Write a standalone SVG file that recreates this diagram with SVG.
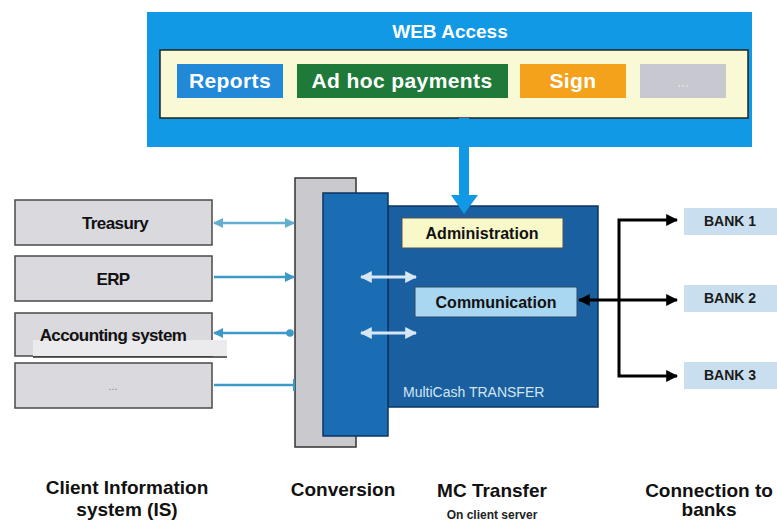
<svg xmlns="http://www.w3.org/2000/svg" width="777" height="522" viewBox="0 0 777 522">
<style>
text{font-family:"Liberation Sans",Arial,sans-serif}
.btn{font-size:21px;font-weight:bold;fill:#ffffff;text-anchor:middle;letter-spacing:0.4px}
.is{fill:#d9d9de;stroke:#4a4a4a;stroke-width:1.5}
.isl{font-size:17px;font-weight:bold;fill:#111;text-anchor:middle;letter-spacing:-0.6px}
.bank{fill:#c9dff0}
.bankl{font-size:14px;font-weight:bold;fill:#1a1a1a;text-anchor:middle}
.lbl{font-size:19px;font-weight:bold;fill:#111;text-anchor:middle}
.bl{stroke:#3d9ac6;stroke-width:2.5;fill:none}
.wh{stroke:#d6e6f3;stroke-width:3;fill:none}
.bk{stroke:#000;stroke-width:3;fill:none}
</style>
<defs>
<marker id="ab" viewBox="0 0 10 10" refX="9" refY="5" markerWidth="4" markerHeight="4" orient="auto-start-reverse"><path d="M0,0 L10,5 L0,10 z" fill="#3d9ac6"/></marker>
<marker id="aw" viewBox="0 0 10 10" refX="9" refY="5" markerWidth="4" markerHeight="4" orient="auto-start-reverse"><path d="M0,0 L10,5 L0,10 z" fill="#d6e6f3"/></marker>
<marker id="ak" viewBox="0 0 10 10" refX="9" refY="5" markerWidth="4" markerHeight="4" orient="auto-start-reverse"><path d="M0,0 L10,5 L0,10 z" fill="#000"/></marker>
<marker id="dot" viewBox="0 0 10 10" refX="5" refY="5" markerWidth="3" markerHeight="3"><circle cx="5" cy="5" r="5" fill="#3d9ac6"/></marker>
</defs>
<rect width="777" height="522" fill="#ffffff"/>

<g id="web-access">
<rect x="147" y="12" width="605" height="135" fill="#1199e6"/>
<text x="450" y="38" font-size="19" font-weight="bold" fill="#fff" text-anchor="middle">WEB Access</text>
<rect x="160" y="50" width="588" height="68" fill="#f9f9d6" stroke="#222" stroke-width="1.5"/>
</g>
<g id="reports"><rect x="177" y="64" width="106" height="34" fill="#2289d8"/><text class="btn" x="230" y="88">Reports</text></g>
<g id="adhoc"><rect x="297" y="64" width="211" height="34" fill="#1f7a3a"/><text class="btn" x="402" y="88">Ad hoc payments</text></g>
<g id="sign"><rect x="520" y="64" width="106" height="34" fill="#f4a11c"/><text class="btn" x="573" y="88">Sign</text></g>
<g id="more"><rect x="640" y="64" width="86" height="34" fill="#c7c8d0"/><text x="683" y="87" font-size="14" fill="#e8e8ee" text-anchor="middle">...</text></g>

<g id="conversion-gray"><rect x="295" y="178" width="61" height="269" fill="#c9c9ce" stroke="#333" stroke-width="1.5"/></g>
<g id="mc-transfer">
<rect x="388" y="206" width="210" height="201" fill="#1a5f9f" stroke="#0d3560" stroke-width="1.5"/>
<text x="403" y="397" font-size="14" fill="#d3e5f4">MultiCash TRANSFER</text>
</g>
<g id="conversion-blue"><rect x="323" y="193" width="65" height="243" fill="#1b6db3" stroke="#0d3560" stroke-width="1.5"/></g>
<g id="administration"><rect x="402" y="218" width="161" height="30" fill="#f8f8c8" stroke="#555" stroke-width="1"/><text x="482" y="239" font-size="16" font-weight="bold" fill="#111" text-anchor="middle">Administration</text></g>
<g id="communication"><rect x="415" y="287" width="162" height="30" fill="#a9d6f1" stroke="#2a4a6a" stroke-width="1"/><text x="496" y="308" font-size="16" font-weight="bold" fill="#111" text-anchor="middle">Communication</text></g>

<g id="treasury"><rect class="is" x="15" y="200" width="197" height="45"/><text class="isl" x="115" y="229">Treasury</text></g>
<g id="erp"><rect class="is" x="15" y="256" width="197" height="45"/><text class="isl" x="113" y="285">ERP</text></g>
<g id="accounting"><rect class="is" x="15" y="313" width="197" height="43"/><rect x="33" y="340" width="194" height="16" fill="#ebebee"/><line x1="33" y1="357" x2="227" y2="357" stroke="#333" stroke-width="1.5"/><text class="isl" x="113" y="341">Accounting system</text></g>
<g id="other-is"><rect class="is" x="15" y="363" width="197" height="45"/><text x="113" y="390" font-size="11" fill="#888" text-anchor="middle">...</text></g>

<g id="bank1"><rect class="bank" x="684" y="208" width="93" height="27"/><text class="bankl" x="730" y="226">BANK 1</text></g>
<g id="bank2"><rect class="bank" x="684" y="285" width="93" height="27"/><text class="bankl" x="730" y="303">BANK 2</text></g>
<g id="bank3"><rect class="bank" x="684" y="362" width="93" height="27"/><text class="bankl" x="730" y="380">BANK 3</text></g>

<g id="connectors">
<path d="M459,118 H469 V195 H478 L464,214 L451,195 H459 Z" fill="#1199e6"/>
<line class="bl" x1="214" y1="223" x2="294" y2="223" stroke-width="2" marker-start="url(#ab)" marker-end="url(#ab)" opacity="0.8"/>
<line class="bl" x1="214" y1="277" x2="294" y2="277" stroke-width="3" marker-end="url(#ab)"/>
<line class="bl" x1="214" y1="333" x2="290" y2="333" marker-start="url(#ab)" marker-end="url(#dot)"/>
<line class="bl" x1="214" y1="385" x2="294" y2="385" stroke-width="3"/>
<line x1="294" y1="379" x2="294" y2="391" stroke="#3d9ac6" stroke-width="2"/>
<line class="wh" x1="361" y1="277" x2="416" y2="277" marker-start="url(#aw)" marker-end="url(#aw)"/>
<line class="wh" x1="361" y1="333" x2="416" y2="333" marker-start="url(#aw)" marker-end="url(#aw)"/>
<line class="bk" x1="579" y1="300" x2="677" y2="300" marker-start="url(#ak)" marker-end="url(#ak)"/>
<path class="bk" d="M677,220 H619 V376 H677" marker-start="url(#ak)" marker-end="url(#ak)"/>
</g>

<g id="labels">
<text class="lbl" x="127" y="494">Client Information</text>
<text class="lbl" x="127" y="516">system (IS)</text>
<text class="lbl" x="343" y="496">Conversion</text>
<text class="lbl" x="492" y="497">MC Transfer</text>
<text x="492" y="519" font-size="12" font-weight="bold" fill="#222" text-anchor="middle">On client server</text>
<text class="lbl" x="709" y="497">Connection to</text>
<text class="lbl" x="709" y="516">banks</text>
</g>
</svg>
